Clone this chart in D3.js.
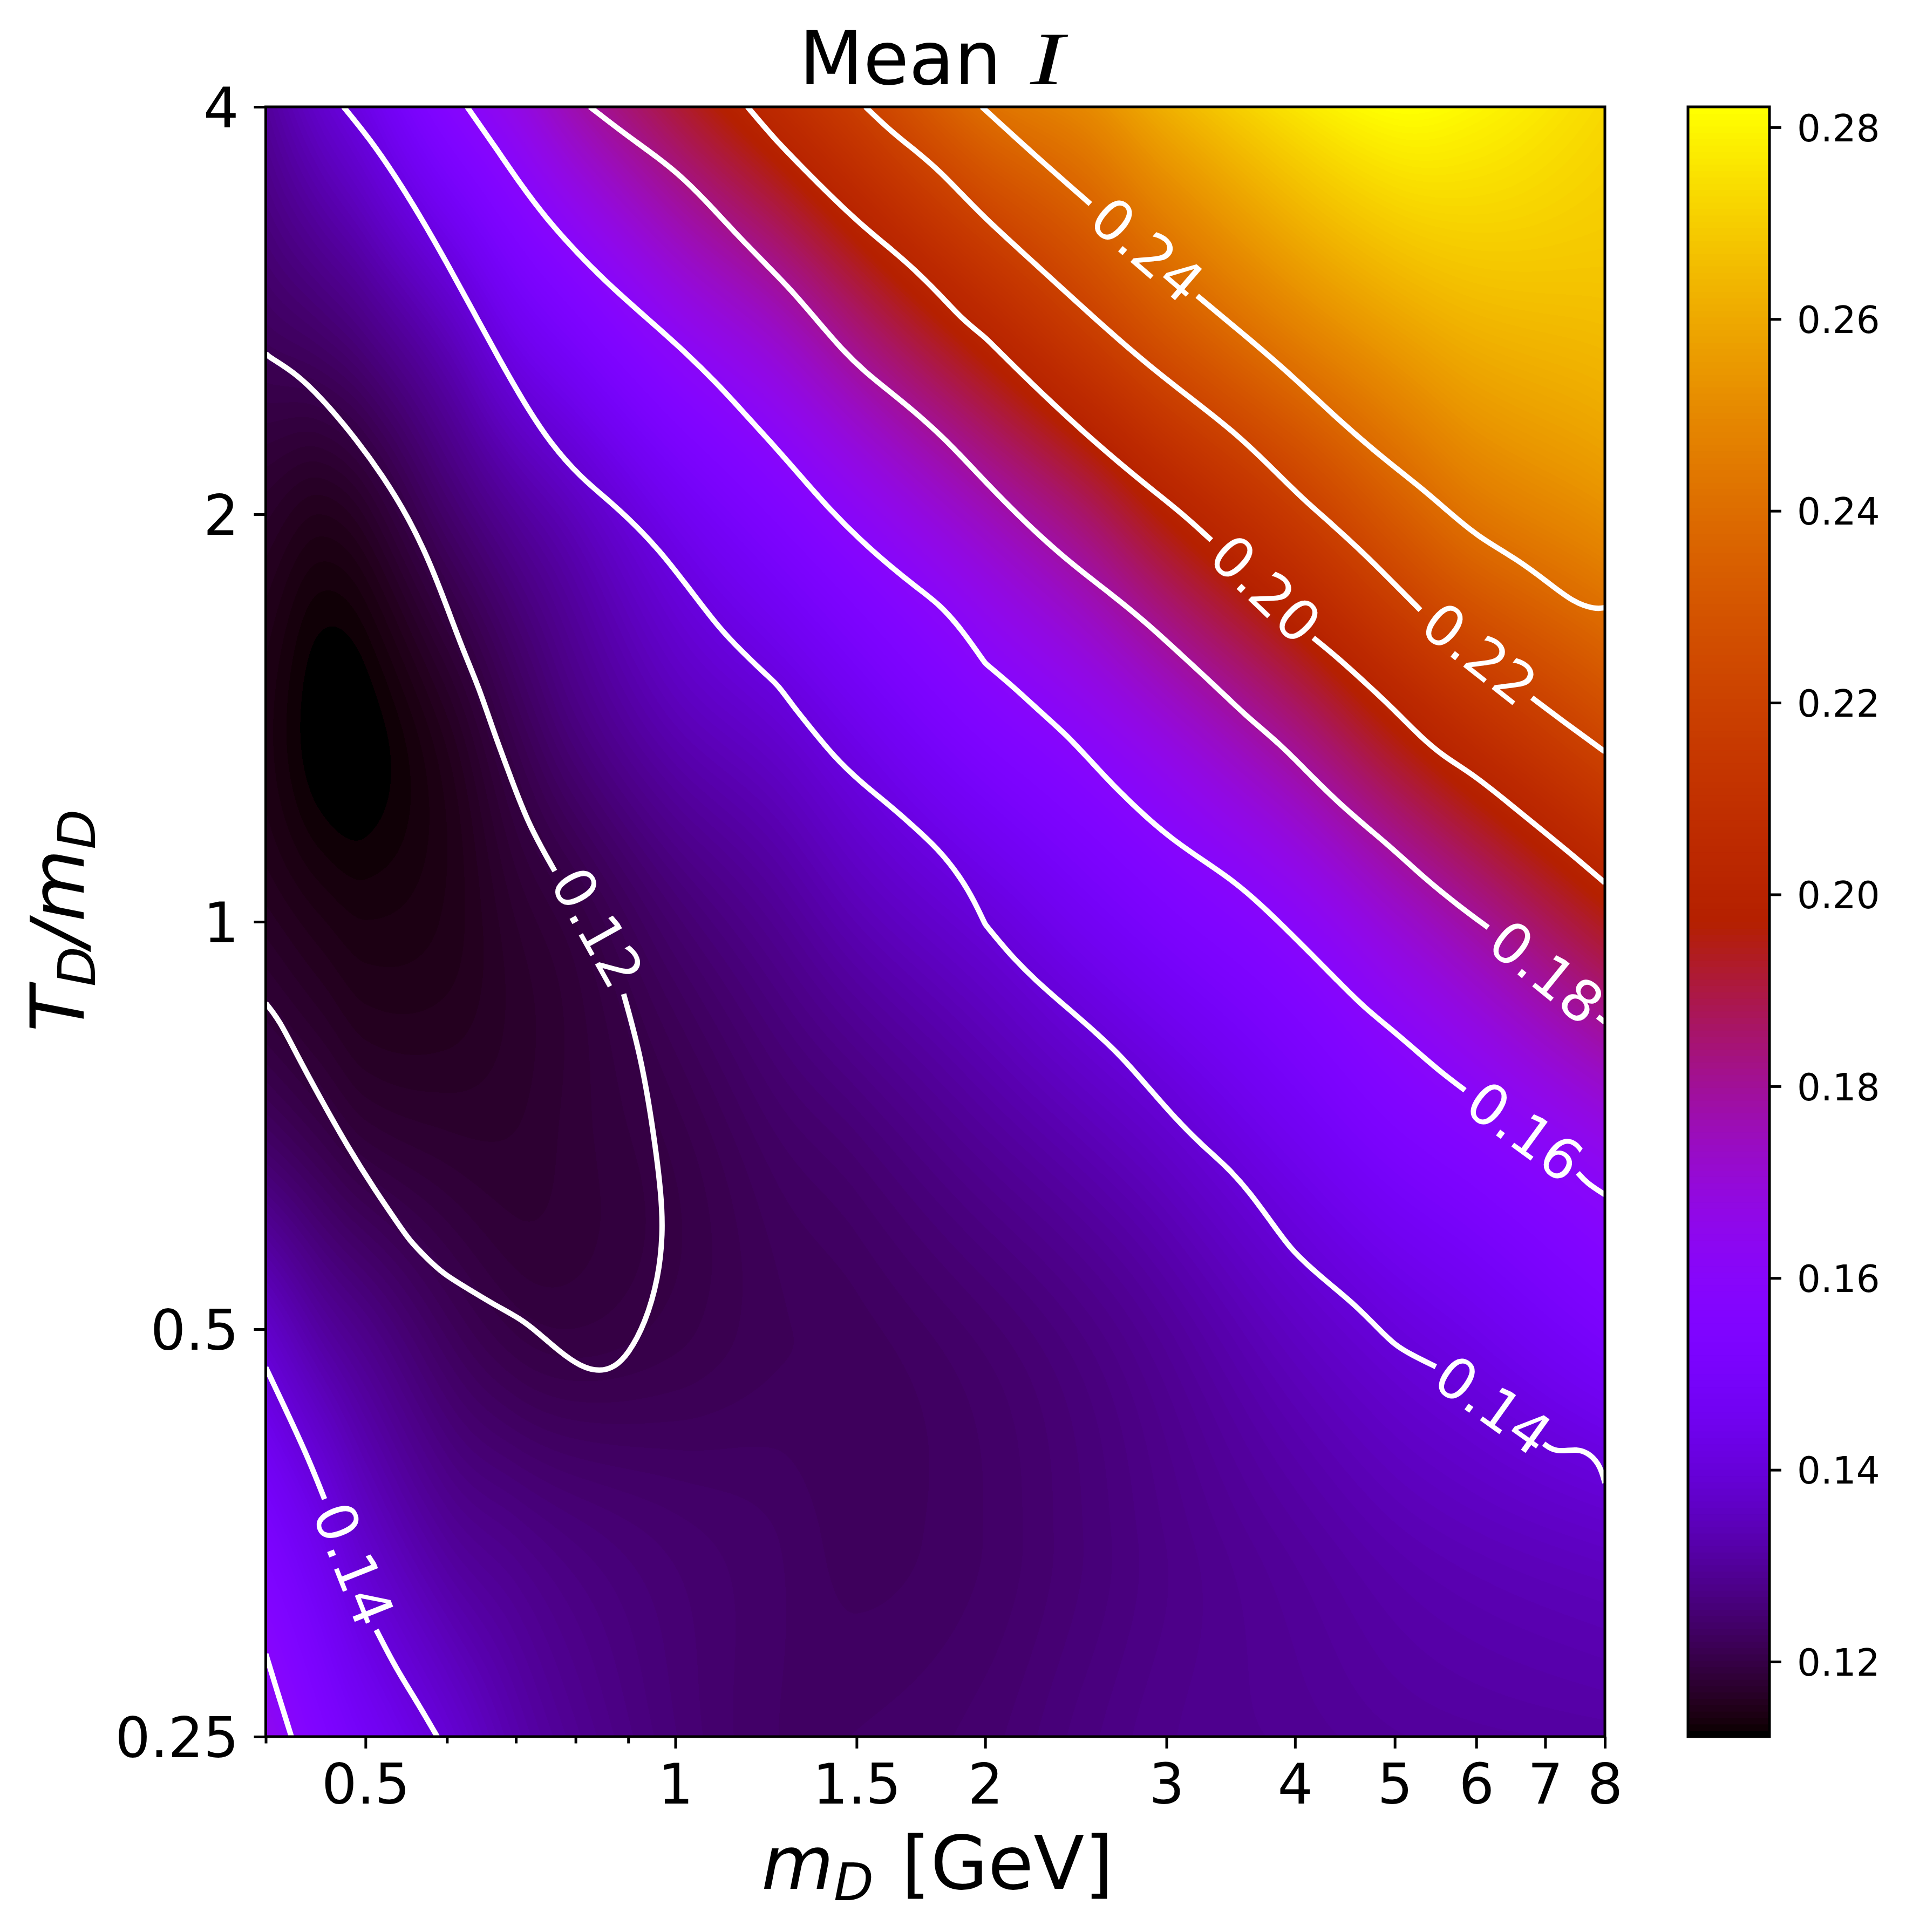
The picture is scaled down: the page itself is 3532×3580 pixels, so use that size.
<!DOCTYPE html>
<html lang="en">
<head>
<meta charset="UTF-8" />
<title>Mean I</title>
<script src="https://d3js.org/d3.v7.min.js"></script>
<style>
  body { margin: 0; background: #fff; }
  #stage { position: relative; width: 3532px; height: 3580px; }
  canvas, svg { position: absolute; left: 0; top: 0; }
  text { font-family: "DejaVu Sans"; fill: #000; }
</style>
</head>
<body>
<div id="stage"></div>
<script>
// grid
const mGrid = [0.4, 0.45, 0.5, 0.6, 0.7, 0.8, 1, 1.25, 1.5, 2, 2.5, 3, 4, 5, 6, 8];
const tGrid = [0.25, 0.35, 0.5, 0.7, 1, 1.4, 2, 2.8, 4];
const meanI = [
  [.165, .155, .148, .139, .1325, .129, .1255, .1235, .1235, .1245, .1265, .128, .129, .130, .1305, .131],
  [.152, .144, .137, .130, .1275, .126, .1245, .1235, .1225, .1235, .1255, .1275, .1305, .133, .1345, .1365],
  [.137, .131, .1275, .1225, .120, .1195, .1205, .122, .1225, .1245, .127, .130, .136, .1405, .144, .151],
  [.123, .1205, .1185, .1175, .1175, .1185, .1205, .1235, .1255, .130, .134, .138, .146, .153, .158, .167],
  [.1165, .1150, .1142, .1150, .1175, .1195, .1245, .129, .1335, .140, .1465, .152, .161, .171, .1795, .1945],
  [.1145, .1122, .1122, .1160, .1215, .1265, .1335, .1385, .1445, .155, .1625, .170, .184, .198, .209, .2245],
  [.117, .1155, .117, .124, .130, .135, .145, .154, .162, .175, .186, .198, .216, .232, .243, .252],
  [.123, .125, .128, .136, .146, .153, .165, .175, .186, .204, .219, .232, .249, .259, .264, .266],
  [.130, .137, .143, .157, .167, .177, .191, .205, .218, .2405, .25, .262, .276, .2821, .28, .273]
];
const colorRange = [0.11218, 0.28213];

const xMajor = [0.5, 1, 1.5, 2, 3, 4, 5, 6, 7, 8];
const xMinor = [0.4, 0.6, 0.7, 0.8, 0.9];
const yMajor = [0.25, 0.5, 1, 2, 4];
const barTicks = [0.12, 0.14, 0.16, 0.18, 0.20, 0.22, 0.24, 0.26, 0.28];

// contour lines, [mD, TD/mD], split where the inline label sits
// the point at mD = 2 is listed twice, the contours have a corner there
const c012a = [[.4,2.63],[.402,2.616],[.4286,2.5416],[.4584,2.414],[.4902,2.27],[.5195,2.136],[.5505,1.989],[.5777,1.8415],[.6005,1.705],[.6238,1.578],[.6432,1.495],[.6675,1.375],[.6933,1.273],[.7206,1.178],[.7636,1.09]];
const c012b = [[.8907,.8843],[.926,.7954],[.9525,.6992],[.9696,.6269],[.9723,.5878],[.963,.5457],[.9349,.5048],[.8994,.479],[.8737,.469],[.8447,.4651],[.8092,.469],[.771,.4816],[.7347,.4974],[.7069,.5091],[.667,.5212],[.6299,.5352],[.5947,.5494],[.5723,.565],[.5525,.5808],[.54,.5955],[.5096,.635],[.4808,.6814],[.454,.736],[.4286,.798],[.4125,.8455],[.4,.8706]];
const c014a = [[.476,4],[.5046,3.789],[.5348,3.553],[.5667,3.309],[.6005,3.0625],[.6359,2.827],[.6736,2.608],[.7137,2.414],[.7563,2.256],[.8092,2.129],[.8659,2.0416],[.926,1.946],[.9806,1.8534],[1.0391,1.7493],[1.1011,1.651],[1.1556,1.5885],[1.2245,1.5229],[1.2591,1.495],[1.2968,1.4479],[1.3601,1.3842],[1.4275,1.3233],[1.5127,1.2687],[1.603,1.2245],[1.6823,1.1864],[1.8055,1.13],[1.896,1.0763],[1.9517,1.0356],[2,.9956],[2,.9956],[2.1113,.9466],[2.2385,.9049],[2.3977,.8651],[2.5674,.8271],[2.7221,.7929],[2.8865,.7531],[3.0622,.7154],[3.247,.684],[3.443,.6581],[3.6157,.6309],[3.7968,.5993],[3.966,.5724],[4.1468,.5548],[4.3098,.5409],[4.5729,.5212],[4.8017,.502],[4.9942,.487],[5.1907,.4787],[5.4807,.4691]];
const c014b = [[6.9779,.4115],[7.1703,.4053],[7.5296,.4083],[7.7511,.4040],[7.92,.3960],[8,.3850]];
const c014cornerA = [[.4,.4685],[.4245,.4259],[.4411,.3994],[.4562,.3745]];
const c014cornerB = [[.5121,.2998],[.5348,.2811],[.5613,.2651],[.587,.25]];
const c016a = [[.6275,4],[.6675,3.741],[.7069,3.508],[.749,3.309],[.8015,3.1231],[.8655,2.947],[.944,2.781],[1.0192,2.6416],[1.1011,2.493],[1.1668,2.3747],[1.2364,2.264],[1.3221,2.136],[1.4138,2.0148],[1.5127,1.914],[1.6186,1.8298],[1.7193,1.7638],[1.8055,1.7159],[1.896,1.6455],[2,1.5524],[2,1.5524],[2.1367,1.4884],[2.2615,1.4294],[2.3977,1.375],[2.5427,1.31],[2.6958,1.249],[2.8586,1.1973],[3.0331,1.152],[3.247,1.1115],[3.4764,1.0734],[3.6885,1.0328],[3.9082,.9901],[4.1468,.9466],[4.3966,.9049],[4.662,.8651],[4.9942,.8293],[5.2942,.798],[5.5605,.7728],[5.8503,.7507]];
const c016b = [[7.5296,.6524],[7.6769,.6414],[8,.6286]];
const c016corner = [[.4,.2878],[.4125,.2666],[.4236,.25]];
const c018a = [[.826,4],[.8907,3.8257],[.9618,3.6696],[1.0192,3.5405],[1.08,3.3846],[1.1445,3.2253],[1.2128,3.083],[1.2968,2.9278],[1.3734,2.781],[1.4553,2.6416],[1.5274,2.5497],[1.6186,2.4612],[1.698,2.39],[1.823,2.2786],[1.9517,2.1566],[2.0907,2.0416],[2.2615,1.9262],[2.445,1.8298],[2.6428,1.7493],[2.8586,1.6669],[3.0917,1.578],[3.3405,1.495],[3.5809,1.4202],[3.8706,1.3527],[4.1468,1.2815],[4.4852,1.2089],[4.9463,1.1374],[5.3468,1.0763],[5.78,1.0262],[6.1619,.9901]];
const c018b = [[7.8738,.8509],[8,.8431]];
const c020a = [[1.175,4],[1.2477,3.789],[1.3221,3.6225],[1.4138,3.4408],[1.5127,3.2775],[1.6341,3.1231],[1.6987,3.0438],[1.8055,2.9089],[1.896,2.791],[2,2.7013],[2,2.7013],[2.1315,2.5745],[2.3057,2.4299],[2.494,2.2997],[2.6958,2.1845],[2.9144,2.0814],[3.122,1.9964],[3.3165,1.914]];
const c020b = [[4.1666,1.621],[4.3966,1.5682],[4.7414,1.4884],[4.9942,1.4339],[5.2942,1.3704],[5.5605,1.327],[5.955,1.285],[6.3739,1.233],[6.8944,1.1745],[7.4571,1.1187],[8,1.0684]];
const c022a = [[1.53,4],[1.6186,3.838],[1.7193,3.703],[1.8055,3.5861],[1.896,3.4504],[2,3.309],[2.1733,3.1231],[2.3735,2.9384],[2.6173,2.7455],[2.8865,2.5745],[3.183,2.4299],[3.51,2.2933],[3.7968,2.1644],[4.067,2.054],[4.3546,1.9638],[4.662,1.8722],[4.97,1.7834],[5.2942,1.6994]];
const c022b = [[6.7953,1.4639],[7.2417,1.4112],[8,1.3355]];
const c024a = [[1.985,4],[2.2385,3.6795],[2.5304,3.3909]];
const c024b = [[3.2139,2.9004],[3.6157,2.6928],[3.9875,2.5254],[4.3966,2.3531],[4.8482,2.2066],[5.2942,2.095],[5.6146,2.0148],[6.0149,1.9262],[6.5695,1.8534],[7.0289,1.7834],[7.4571,1.7215],[7.8309,1.7017],[8,1.7064]];

const labelled = [
  ["0.12", c012a, c012b], ["0.14", c014a, c014b], ["0.14", c014cornerA, c014cornerB],
  ["0.16", c016a, c016b], ["0.18", c018a, c018b], ["0.20", c020a, c020b],
  ["0.22", c022a, c022b], ["0.24", c024a, c024b]
];
const unlabelled = [c016corner];

const plot = { left: 492.5, right: 2974, top: 198, bottom: 3218 };
const bar = { left: 3128, right: 3279 };

const x = d3.scaleLog().domain([0.4, 8]).range([plot.left, plot.right]);
const y = d3.scaleLog().base(2).domain([0.25, 4]).range([plot.bottom, plot.top]);
const barY = d3.scaleLinear().domain(colorRange).range([plot.bottom, plot.top]);

// matplotlib gnuplot colormap
function gnuplot(t) {
  const r = Math.sqrt(t), g = t * t * t, b = Math.max(0, Math.sin(2 * Math.PI * t));
  return [r * 255, g * 255, b * 255];
}
const lut = d3.range(256).map(i => gnuplot(i / 255));
const level = d3.scaleQuantize().domain(colorRange).range(d3.range(256));

// cubic hermite on log axes, the plot is smooth between grid nodes
const logM = mGrid.map(Math.log), logT = tGrid.map(Math.log);
function slopes(xs, ys) {
  return ys.map((_, i) => {
    const a = Math.max(i - 1, 0), b = Math.min(i + 1, ys.length - 1);
    return (ys[b] - ys[a]) / (xs[b] - xs[a]);
  });
}
function hermite(xs, ys, ms, i, v) {
  const h = xs[i + 1] - xs[i], s = (v - xs[i]) / h;
  const s2 = s * s, s3 = s2 * s;
  return (2 * s3 - 3 * s2 + 1) * ys[i] + (s3 - 2 * s2 + s) * h * ms[i]
    + (-2 * s3 + 3 * s2) * ys[i + 1] + (s3 - s2) * h * ms[i + 1];
}
function segment(xs, v) {
  return Math.min(Math.max(d3.bisectRight(xs, v) - 1, 0), xs.length - 2);
}

const stage = d3.select("#stage");
const w = Math.round(plot.right - plot.left), h = Math.round(plot.bottom - plot.top);
const canvas = stage.append("canvas")
  .attr("width", w).attr("height", h)
  .style("left", plot.left + "px").style("top", plot.top + "px");
const ctx = canvas.node().getContext("2d");
const img = ctx.createImageData(w, h);
const rowSlopes = meanI.map(row => slopes(logM, row));
const pxRow = d3.range(h).map(j => {
  const v = Math.log(y.invert(plot.top + j + 0.5));
  return [v, segment(logT, v)];
});
for (let i = 0; i < w; i++) {
  const lm = Math.log(x.invert(plot.left + i + 0.5));
  const seg = segment(logM, lm);
  const col = meanI.map((row, r) => hermite(logM, row, rowSlopes[r], seg, lm));
  const colSlopes = slopes(logT, col);
  for (let j = 0; j < h; j++) {
    const val = hermite(logT, col, colSlopes, pxRow[j][1], pxRow[j][0]);
    const c = lut[level(val)];
    const k = (j * w + i) * 4;
    img.data[k] = c[0]; img.data[k + 1] = c[1]; img.data[k + 2] = c[2]; img.data[k + 3] = 255;
  }
}
ctx.putImageData(img, 0, 0);

const svg = stage.append("svg").attr("width", 3532).attr("height", 3580);
svg.append("clipPath").attr("id", "plotClip").append("rect")
  .attr("x", plot.left).attr("y", plot.top)
  .attr("width", plot.right - plot.left).attr("height", plot.bottom - plot.top);

const line = d3.line().x(d => x(d[0])).y(d => y(d[1])).curve(d3.curveBasis);
const lines = svg.append("g").attr("clip-path", "url(#plotClip)")
  .attr("fill", "none").attr("stroke", "#fff").attr("stroke-width", 10);
labelled.forEach(([, a, b]) => {
  lines.append("path").attr("d", line(a));
  lines.append("path").attr("d", line(b));
});
unlabelled.forEach(a => lines.append("path").attr("d", line(a)));

// inline labels sit in the middle of the gap, turned along it
labelled.forEach(([label, a, b]) => {
  const p = a[a.length - 1], q = b[0];
  const x0 = x(p[0]), y0 = y(p[1]), x1 = x(q[0]), y1 = y(q[1]);
  const angle = Math.atan2(y1 - y0, x1 - x0) * 180 / Math.PI;
  const shift = a === c012a ? [16, -10] : [7, -1];
  svg.append("text")
    .attr("transform", `translate(${(x0 + x1) / 2 + shift[0]},${(y0 + y1) / 2 + shift[1]}) rotate(${angle})`)
    .attr("text-anchor", "middle").attr("dy", "0.365em")
    .style("font-size", "105px").style("fill", "#fff")
    .text(label);
});

function styleAxis(g, size) {
  g.select(".domain").remove();
  g.selectAll(".tick line").attr("stroke", "#000").attr("stroke-width", 5);
  g.selectAll(".tick text").style("font-size", size + "px").style("font-family", "DejaVu Sans").attr("fill", "#000");
}

const xAxis = svg.append("g").attr("transform", `translate(0,${plot.bottom})`)
  .call(d3.axisBottom(x).tickValues(xMajor).tickFormat(d => d).tickSize(22).tickPadding(29));
styleAxis(xAxis, 103);
const xAxisMinor = svg.append("g").attr("transform", `translate(0,${plot.bottom})`)
  .call(d3.axisBottom(x).tickValues(xMinor).tickFormat("").tickSize(12.5));
styleAxis(xAxisMinor, 103);

const yAxis = svg.append("g").attr("transform", `translate(${plot.left},0)`)
  .call(d3.axisLeft(y).tickValues(yMajor).tickFormat(d => d).tickSize(22).tickPadding(28));
styleAxis(yAxis, 103);
yAxis.selectAll(".tick text").attr("dy", "0.365em");

// colorbar
svg.append("g").selectAll("rect").data(d3.range(256)).join("rect")
  .attr("x", bar.left).attr("width", bar.right - bar.left)
  .attr("y", d => barY(colorRange[0] + (d + 1) / 256 * (colorRange[1] - colorRange[0])))
  .attr("height", (plot.bottom - plot.top) / 256 + 1)
  .attr("fill", d => d3.rgb(...lut[d]));
const barAxis = svg.append("g").attr("transform", `translate(${bar.right},0)`)
  .call(d3.axisRight(barY).tickValues(barTicks).tickFormat(d3.format(".2f")).tickSize(22).tickPadding(29));
styleAxis(barAxis, 69);
barAxis.selectAll(".tick text").attr("dy", "0.365em");

// spines
svg.append("rect").attr("x", plot.left).attr("y", plot.top)
  .attr("width", plot.right - plot.left).attr("height", plot.bottom - plot.top)
  .attr("fill", "none").attr("stroke", "#000").attr("stroke-width", 5);
svg.append("rect").attr("x", bar.left).attr("y", plot.top)
  .attr("width", bar.right - bar.left).attr("height", plot.bottom - plot.top)
  .attr("fill", "none").attr("stroke", "#000").attr("stroke-width", 5);

// titles, the calligraphic I is a stretched serif italic, no installed font has the right one
svg.append("text").attr("x", 1481).attr("y", 156)
  .style("font-size", "137.5px").text("Mean");
svg.append("text").attr("transform", "translate(1909,156) scale(1.35,1)")
  .style("font-size", "140px").style("font-family", "Liberation Serif").style("font-style", "italic").text("I");

const xLabel = svg.append("text").attr("x", 1737).attr("y", 3500).attr("text-anchor", "middle")
  .style("font-size", "137.5px").style("word-spacing", "8px");
xLabel.append("tspan").style("font-style", "italic").text("m");
xLabel.append("tspan").style("font-style", "italic").style("font-size", "96px").attr("dy", 21).text("D");
xLabel.append("tspan").attr("dy", -21).text(" [GeV]");

const yLabel = svg.append("text").attr("transform", "translate(155,1706) rotate(-90)")
  .attr("text-anchor", "middle").style("font-size", "137.5px");
yLabel.append("tspan").style("font-style", "italic").text("T");
yLabel.append("tspan").style("font-style", "italic").style("font-size", "96px").attr("dy", 21).text("D");
yLabel.append("tspan").attr("dy", -21).style("font-style", "italic").text("/m");
yLabel.append("tspan").style("font-style", "italic").style("font-size", "96px").attr("dy", 21).text("D");
</script>
</body>
</html>
